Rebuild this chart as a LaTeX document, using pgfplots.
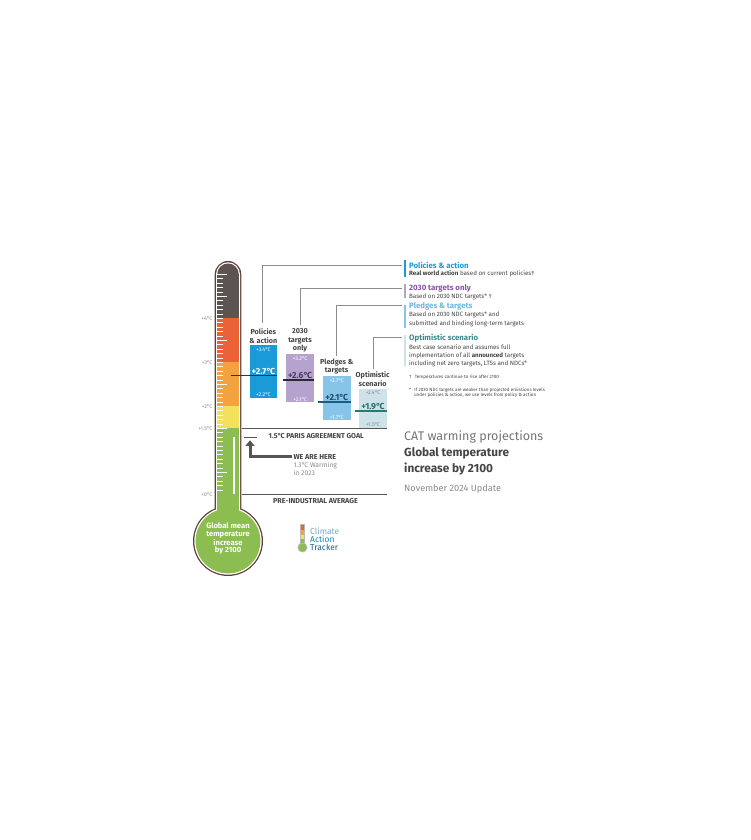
\documentclass[border=0pt]{standalone}
\usepackage{pgfplots}
\pgfplotsset{compat=1.18}
\usepackage{fontspec}
\setmainfont{Fira Sans}
\newcommand\fs[2]{\fontsize{#1}{#2}\selectfont}
\newcommand\dC{°\kern-0.1em C}
\definecolor{tgrey}{HTML}{5B5452}
\definecolor{tred}{HTML}{EC6238}
\definecolor{torange}{HTML}{F2A33F}
\definecolor{tyellow}{HTML}{F3E05C}
\definecolor{tgreen}{HTML}{8BBD50}
\definecolor{tbrown}{HTML}{5E4037}
\definecolor{cpol}{HTML}{1A9AD6}
\definecolor{c2030}{HTML}{B6A2CF}
\definecolor{cpled}{HTML}{88C4E8}
\definecolor{copt}{HTML}{CDE2E9}
\definecolor{t2030}{HTML}{8A52A7}
\definecolor{tpled}{HTML}{68B6E2}
\definecolor{topt}{HTML}{3A8A8C}
\definecolor{dtext}{HTML}{444444}
\definecolor{ltext}{HTML}{8A8A8A}
\definecolor{conn}{HTML}{8C8C8C}
\definecolor{lpol}{HTML}{1E3A4C}
\definecolor{l2030}{HTML}{2A2A33}
\definecolor{lpled}{HTML}{1B5C82}
\definecolor{lopt}{HTML}{2B7A6E}
\definecolor{m2030}{HTML}{4B3B5C}
\definecolor{mpled}{HTML}{1B4A6B}
\definecolor{mopt}{HTML}{2C6B63}
\definecolor{arrowc}{HTML}{555555}
\begin{document}
\begin{tikzpicture}
\useasboundingbox (0,0) rectangle (750pt,840pt);
% ---------- thermometer body (pixel coordinates) ----------
\begin{scope}[x=1pt,y=-1pt,yshift=840pt]
\fill[tbrown] (214.7,520) -- (214.7,274.3) arc[start angle=180,end angle=0,radius=13.3pt] -- (241.3,520) -- cycle;
\fill[tbrown] (228,541) circle[radius=35pt];
\fill[white] (216,520) -- (216,274.3) arc[start angle=180,end angle=0,radius=12pt] -- (240,520) -- cycle;
\fill[white] (228,541) circle[radius=33.7pt];
\fill[tgrey] (217.2,520) -- (217.2,274.3) arc[start angle=180,end angle=0,radius=10.8pt] -- (238.8,520) -- cycle;
\fill[tgreen] (217.2,428.5) rectangle (238.8,520);
\fill[tgreen] (228,541) circle[radius=32.4pt];
\end{scope}
% ---------- data axis: x in pixels, y in degrees C ----------
\begin{axis}[at={(0,0)},anchor=south west,scale only axis,
  width=750pt,height=840pt,xmin=0,xmax=750,ymin=-7.85227,ymax=11.23864,
  axis lines=none,xtick=\empty,ytick=\empty,clip=false]
% thermometer bands
\addplot[draw=none,fill=tyellow] coordinates {(217.2,1.5) (238.8,1.5) (238.8,2) (217.2,2)} -- cycle;
\addplot[draw=none,fill=torange] coordinates {(217.2,2) (238.8,2) (238.8,3) (217.2,3)} -- cycle;
\addplot[draw=none,fill=tred] coordinates {(217.2,3) (238.8,3) (238.8,4) (217.2,4)} -- cycle;
% scenario ranges
\addplot[draw=none,fill=cpol] coordinates {(249.5,2.2) (277.3,2.2) (277.3,3.4) (249.5,3.4)} -- cycle;
\addplot[draw=none,fill=c2030] coordinates {(286,2.1) (314.3,2.1) (314.3,3.2) (286,3.2)} -- cycle;
\addplot[draw=none,fill=cpled] coordinates {(322.7,1.7) (351,1.7) (351,2.7) (322.7,2.7)} -- cycle;
\addplot[draw=none,fill=copt] coordinates {(359,1.5) (387,1.5) (387,2.4) (359,2.4)} -- cycle;
% central estimates
\addplot[line width=1.6pt,color=lpol] coordinates {(230.7,2.7) (277.3,2.7)};
\addplot[line width=1.6pt,color=l2030] coordinates {(282.7,2.6) (314.3,2.6)};
\addplot[line width=1.6pt,color=lpled] coordinates {(318,2.1) (351,2.1)};
\addplot[line width=1.6pt,color=lopt] coordinates {(355,1.9) (387,1.9)};
% reference lines
\addplot[line width=1.1pt,color=arrowc] coordinates {(242,1.5) (387,1.5)};
\addplot[line width=1.1pt,color=arrowc] coordinates {(242,0) (387,0)};
\addplot[line width=1pt,color=arrowc] coordinates {(244,1.3) (256.7,1.3)};
\end{axis}
% ---------- annotations (pixel coordinates) ----------
\begin{scope}[x=1pt,y=-1pt,yshift=840pt,every node/.style={inner sep=0pt}]
% ticks
\foreach \t in {1,...,50}{
  \pgfmathsetmacro\yy{494.5-4.4*\t}
  \pgfmathsetmacro\xe{(mod(\t,5)==0 && mod(\t,10)!=0) || \t==50 ? 227.3 : 223.3}
  \draw[white,line width=0.8pt] (217.2,\yy) -- (\xe,\yy);
}
\fill[white] (232.7,437.3) rectangle (234.7,494.5);
% thermometer labels
\foreach \v/\yy in {+4/318.5,+3/362.5,+2/406.5,+1.5/428.5,+0/494.5}
  \node[anchor=east,text=ltext,font=\fs{5.4}{6}] at (212.5,\yy) {\v\dC};
\node[text=white,font=\bfseries\fs{7.6}{7.6},align=center] at (228,538.7) {Global mean\\temperature\\increase\\by 2100};
% connectors
\draw[conn,line width=0.9pt] (262.7,323) -- (262.7,265) -- (402,265);
\draw[conn,line width=0.9pt] (300,325) -- (300,288.3) -- (402,288.3);
\draw[conn,line width=0.9pt] (336.7,356) -- (336.7,305.7) -- (402,305.7);
\draw[conn,line width=0.9pt] (373.3,369) -- (373.3,337) -- (402,337);
% scenario headers
\node[text=dtext,font=\bfseries\fs{7.2}{8.3},align=center] at (263.3,336) {Policies\\\& action};
\node[text=dtext,font=\bfseries\fs{7.2}{8.3},align=center] at (300,340.5) {2030\\targets\\only};
\node[text=dtext,font=\bfseries\fs{7.2}{8.3},align=center] at (336.7,366.7) {Pledges \&\\targets};
\node[text=dtext,font=\bfseries\fs{7.2}{8.3},align=center] at (372.7,379.2) {Optimistic\\scenario};
% box labels
\node[text=white,font=\fs{5.4}{6}] at (263.4,350) {+3.4\dC};
\node[text=white,font=\bfseries\fs{8.7}{9}] at (263.4,371) {+2.7\dC};
\node[text=white,font=\fs{5.4}{6}] at (263.4,394.7) {+2.2\dC};
\node[text=white,font=\fs{5.4}{6}] at (300.1,358.3) {+3.2\dC};
\node[text=m2030,font=\bfseries\fs{8.7}{9}] at (300.1,375) {+2.6\dC};
\node[text=white,font=\fs{5.4}{6}] at (300.1,399.3) {+2.1\dC};
\node[text=white,font=\fs{5.4}{6}] at (336.8,380.7) {+2.7\dC};
\node[text=mpled,font=\bfseries\fs{8.7}{9}] at (336.8,397.3) {+2.1\dC};
\node[text=white,font=\fs{5.4}{6}] at (336.8,417.3) {+1.7\dC};
\node[text=ltext,font=\fs{5.4}{6}] at (373,393) {+2.4\dC};
\node[text=mopt,font=\bfseries\fs{8.7}{9}] at (373,406.7) {+1.9\dC};
\node[text=ltext,font=\fs{5.4}{6}] at (373,425) {+1.5\dC};
% reference line labels
\node[text=dtext,font=\bfseries\fs{7.1}{7}] at (316.3,436) {1.5\dC{} PARIS AGREEMENT GOAL};
\node[text=dtext,font=\bfseries\fs{7.2}{7}] at (315.5,501.3) {PRE-INDUSTRIAL AVERAGE};
% we are here
\draw[arrowc,line width=3pt,miter limit=10] (250,445) -- (250,457) -- (291.7,457);
\fill[arrowc] (245.3,446) -- (254.7,446) -- (250,440.3) -- cycle;
\node[anchor=west,text=dtext,font=\bfseries\fs{7.2}{7}] at (293.3,457) {WE ARE HERE};
\node[anchor=west,text=ltext,font=\fs{6.8}{7}] at (293.3,465.7) {1.3\dC{} Warming};
\node[anchor=west,text=ltext,font=\fs{6.8}{7}] at (293.3,473.3) {in 2023};
% legend
\fill[cpol] (404,260) rectangle (406,276.7);
\fill[c2030] (404,284) rectangle (406,298.3);
\fill[cpled] (404,305) rectangle (406,327.7);
\fill[copt] (404,335) rectangle (406,366);
\node[anchor=west,text=cpol,font=\bfseries\fs{7.8}{8}] at (409,265) {Policies \& action};
\node[anchor=west,text=dtext,font=\fs{6.2}{6}] at (409,273.7) {\textbf{Real world action} based on current policies†};
\node[anchor=west,text=t2030,font=\bfseries\fs{7.8}{8}] at (409,288.3) {2030 targets only};
\node[anchor=west,text=dtext,font=\fs{6.2}{6}] at (409,297) {Based on 2030 NDC targets* †};
\node[anchor=west,text=tpled,font=\bfseries\fs{7.8}{8}] at (409,306) {Pledges \& targets};
\node[anchor=west,text=dtext,font=\fs{6.2}{6}] at (409,315) {Based on 2030 NDC targets* and};
\node[anchor=west,text=dtext,font=\fs{6.2}{6}] at (409,324) {submitted and binding long-term targets};
\node[anchor=west,text=topt,font=\bfseries\fs{7.8}{8}] at (409,338) {Optimistic scenario};
\node[anchor=west,text=dtext,font=\fs{6.2}{6}] at (409,347) {Best case scenario and assumes full};
\node[anchor=west,text=dtext,font=\fs{6.2}{6}] at (409,355.3) {implementation of all \textbf{announced} targets};
\node[anchor=west,text=dtext,font=\fs{6.2}{6}] at (409,363.6) {including net zero targets, LTSs and NDCs*};
\node[anchor=west,text=dtext,font=\fs{4.6}{5}] at (409,377) {†\hspace{2pt} Temperatures continue to rise after 2100};
\node[anchor=west,text=dtext,font=\fs{4.6}{5}] at (409,390) {*\hspace{2pt} If 2030 NDC targets are weaker than projected emissions levels};
\node[anchor=west,text=dtext,font=\fs{4.6}{5}] at (413.8,395.6) {under policies \& action, we use levels from policy \& action};
% title block
\node[anchor=west,text=ltext!85!black,font=\fs{12.5}{13}] at (404,437.3) {CAT warming projections};
\node[anchor=west,text=dtext,font=\bfseries\fs{11.8}{12}] at (404,453.3) {Global temperature};
\node[anchor=west,text=dtext,font=\bfseries\fs{11.8}{12}] at (404,468.6) {increase by 2100};
\node[anchor=west,text=ltext,font=\fs{9.2}{9}] at (404,489.3) {November 2024 Update};
% logo
\fill[ltext!60] (300,524) rectangle (305,545);
\fill[tred] (301,525) rectangle (304,530);
\fill[torange] (301,530) rectangle (304,535);
\fill[tyellow] (301,535) rectangle (304,539);
\fill[tgreen] (301,539) rectangle (304,546);
\fill[ltext!60] (302.5,547.5) circle[radius=5pt];
\fill[tgreen] (302.5,547.5) circle[radius=4pt];
\node[anchor=west,text=cpled!85!black,font=\fs{8.5}{9}] at (310,531) {Climate};
\node[anchor=west,text=cpol!85!black,font=\fs{8.5}{9}] at (310,539.3) {Action};
\node[anchor=west,text=lpled,font=\fs{8.5}{9}] at (310,547.3) {Tracker};
\end{scope}
\end{tikzpicture}
\end{document}
